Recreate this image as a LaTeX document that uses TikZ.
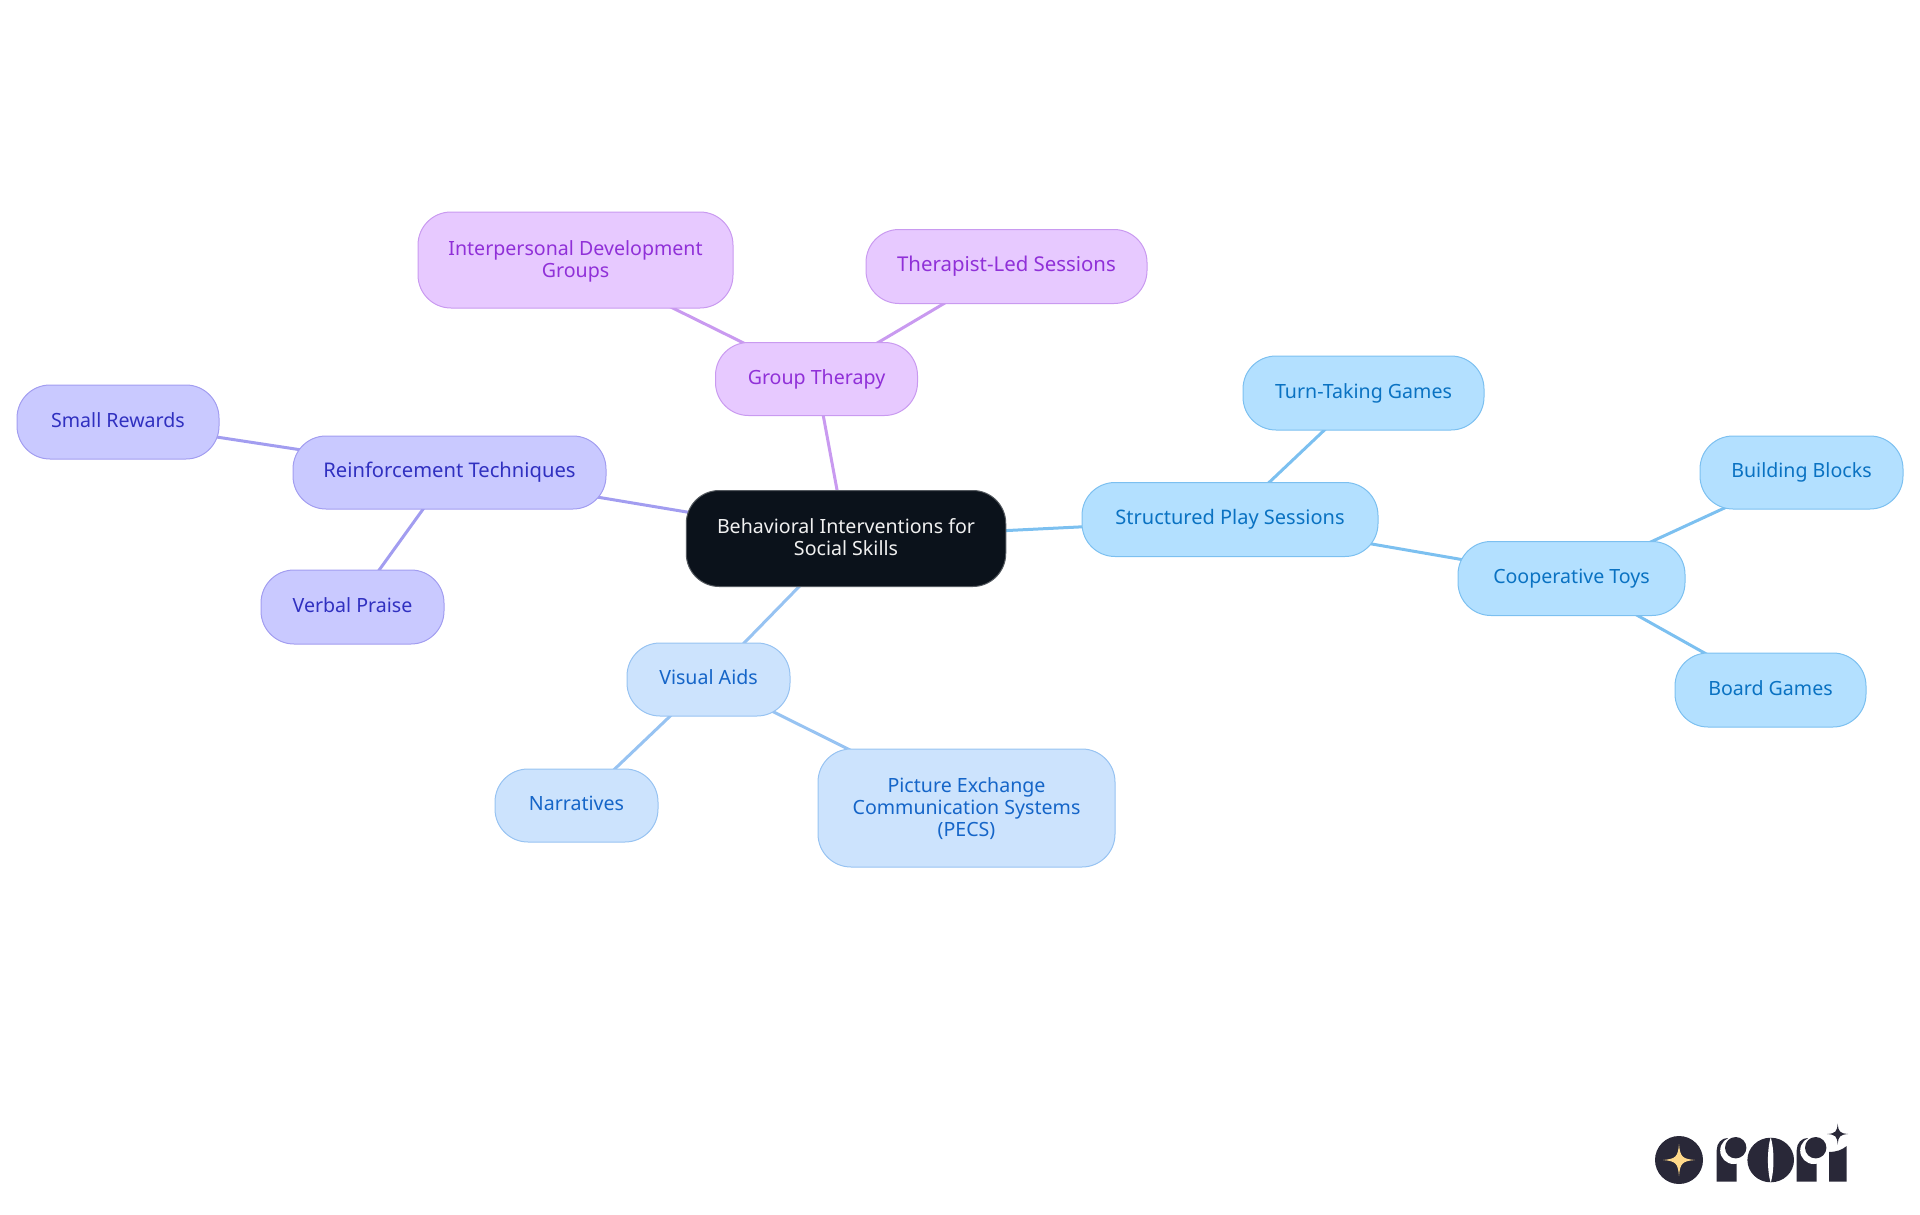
\documentclass[tikz,border=0pt]{standalone}
\usepackage{fontspec}
\setmainfont{Noto Sans}
\usetikzlibrary{backgrounds}
\definecolor{skyfill}{HTML}{B3E0FF}\definecolor{skyline}{HTML}{7CC0F0}\definecolor{skytext}{HTML}{0A72C2}
\definecolor{bluefill}{HTML}{CCE3FD}\definecolor{blueline}{HTML}{97C3F2}\definecolor{bluetext}{HTML}{1565C8}
\definecolor{indfill}{HTML}{C9C9FF}\definecolor{indline}{HTML}{A29DF0}\definecolor{indtext}{HTML}{3030C0}
\definecolor{purfill}{HTML}{E7C9FF}\definecolor{purline}{HTML}{C99AF0}\definecolor{purtext}{HTML}{9030D8}
\definecolor{rootfill}{HTML}{0B121B}\definecolor{logodark}{HTML}{292838}\definecolor{logostar}{HTML}{FFD98A}
\tikzset{
  x=1pt,y=-1pt,
  mm/.style={rounded corners=33pt,align=center,inner sep=0pt,line width=1pt,
    font=\fontsize{19.6}{22}\selectfont},
  one/.style={text height=15pt,text depth=5pt},
  root/.style={mm,draw=rootfill!70!white,fill=rootfill,text=white!94!black},
  sky/.style={mm,draw=skyline,fill=skyfill,text=skytext},
  blu/.style={mm,draw=blueline,fill=bluefill,text=bluetext},
  ind/.style={mm,draw=indline,fill=indfill,text=indtext},
  pur/.style={mm,draw=purline,fill=purfill,text=purtext},
  lnk/.style={line width=3pt},
  logo/.style={fill=logodark,draw=none},
  cut/.style={fill=white,draw=none},
}
\newcommand{\fourstar}[4]{% x,y,arm,colour
  \fill[#4] (#1-#3,#2) .. controls (#1-0.2*#3,#2-0.07*#3) and (#1-0.07*#3,#2-0.2*#3) .. (#1,#2-#3)
   .. controls (#1+0.07*#3,#2-0.2*#3) and (#1+0.2*#3,#2-0.07*#3) .. (#1+#3,#2)
   .. controls (#1+0.2*#3,#2+0.07*#3) and (#1+0.07*#3,#2+0.2*#3) .. (#1,#2+#3)
   .. controls (#1-0.07*#3,#2+0.2*#3) and (#1-0.2*#3,#2+0.07*#3) .. (#1-#3,#2) -- cycle;}
\newcommand{\logor}[1]{% x of stem left
  \fill[logo] (#1,1181.7) -- (#1,1150) .. controls (#1,1143) and (#1+5,1138) .. (#1+11,1138) -- (#1+20,1138) -- (#1+20,1181.7) -- cycle;
  \fill[cut] (#1+17,1150.5) circle[radius=13.5];
  \fill[cut] (#1+20,1150) rectangle (#1+30,1165);
  \fill[logo] (#1+19,1147.7) circle[radius=10.7];}
\begin{document}
\begin{tikzpicture}
\useasboundingbox (0,0) rectangle (1920,1215);
\node[root,minimum width=319.5pt,minimum height=96pt] (root) at (846,538.5) {Behavioral Interventions for\\Social Skills\rule[-3pt]{0pt}{1pt}};
\node[pur,one,minimum width=202pt,minimum height=73pt] (group) at (816.5,379) {Group Therapy};
\node[pur,minimum width=315pt,minimum height=96pt] (inter) at (575.5,260) {\rule{0pt}{17.5pt}Interpersonal Development\\Groups};
\node[pur,one,minimum width=281pt,minimum height=74pt,font=\fontsize{20.4}{22}\selectfont] (therapist) at (1006.5,266.5) {Therapist-Led Sessions};
\node[sky,one,minimum width=296pt,minimum height=74pt,font=\fontsize{20}{22}\selectfont] (play) at (1230,519.5) {Structured Play Sessions};
\node[sky,one,minimum width=241pt,minimum height=74pt] (turn) at (1363.5,393) {Turn-Taking Games};
\node[sky,one,minimum width=227pt,minimum height=74pt] (toys) at (1571.5,578.5) {Cooperative Toys};
\node[sky,one,minimum width=203pt,minimum height=73pt] (blocks) at (1801.5,472.5) {Building Blocks};
\node[sky,one,minimum width=191pt,minimum height=74pt] (board) at (1770.5,690) {Board Games};
\node[ind,one,minimum width=313pt,minimum height=73pt,font=\fontsize{20.2}{22}\selectfont] (reinf) at (449.5,472.5) {Reinforcement Techniques};
\node[ind,one,minimum width=202pt,minimum height=74pt] (small) at (118,422) {Small Rewards};
\node[ind,one,minimum width=183pt,minimum height=74pt] (verbal) at (352.5,607) {Verbal Praise};
\node[blu,one,minimum width=163pt,minimum height=73pt] (visual) at (708.5,679.5) {Visual Aids};
\node[blu,one,minimum width=163pt,minimum height=73pt] (narr) at (576.5,805.5) {Narratives};
\node[blu,minimum width=297pt,minimum height=118pt] (pecs) at (966.5,808) {\rule{0pt}{17pt}Picture Exchange\\Communication Systems\\(PECS)};
\begin{scope}[on background layer]
\draw[lnk,purline] (root.center) -- (group.center);
\draw[lnk,purline] (group.center) -- (inter.center);
\draw[lnk,purline] (group.center) -- (therapist.center);
\draw[lnk,skyline] (root.center) -- (play.center);
\draw[lnk,skyline] (play.center) -- (turn.center);
\draw[lnk,skyline] (play.center) -- (toys.center);
\draw[lnk,skyline] (toys.center) -- (blocks.center);
\draw[lnk,skyline] (toys.center) -- (board.center);
\draw[lnk,indline] (root.center) -- (reinf.center);
\draw[lnk,indline] (reinf.center) -- (small.center);
\draw[lnk,indline] (reinf.center) -- (verbal.center);
\draw[lnk,blueline] (root.center) -- (visual.center);
\draw[lnk,blueline] (visual.center) -- (narr.center);
\draw[lnk,blueline] (visual.center) -- (pecs.center);
\end{scope}
% logo
\fill[logo] (1679,1160) circle[radius=24];
\fourstar{1679}{1160}{16}{logostar}
\logor{1716.7}
\fill[logo] (1770.7,1160) ellipse[x radius=23.3,y radius=22.3];
\fill[cut] (1770.7,1137) .. controls (1767,1150) and (1767,1170) .. (1770.7,1183) .. controls (1774.4,1170) and (1774.4,1150) .. (1770.7,1137) -- cycle;
\logor{1796.7}
\fill[logo] (1829,1181.7) -- (1829,1152) .. controls (1836,1152) and (1842,1150) .. (1846.7,1146) -- (1846.7,1181.7) -- cycle;
\fourstar{1837.7}{1134}{10.5}{logodark}
\end{tikzpicture}
\end{document}
